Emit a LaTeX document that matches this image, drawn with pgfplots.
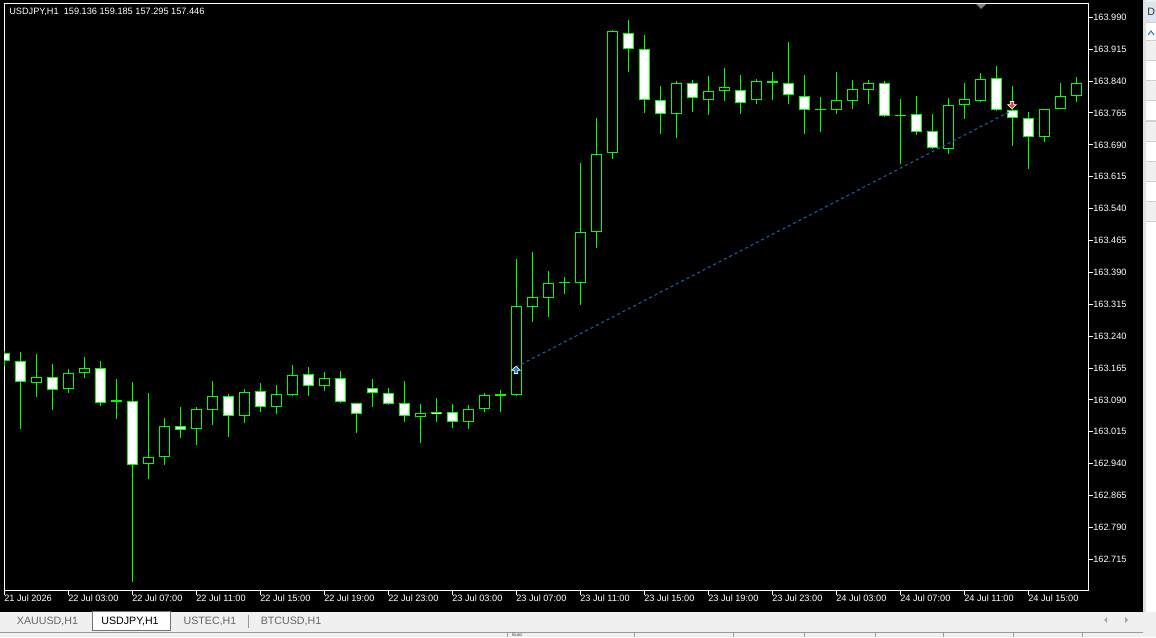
\documentclass[border=0pt]{standalone}
\usepackage{fontspec}
\setmainfont{Liberation Sans}
\usepackage{pgfplots}
\usepackage{pgfplotstable}
\pgfplotsset{compat=1.18}

\definecolor{mtgreen}{RGB}{0,255,0}
\definecolor{tradeblue}{RGB}{30,100,190}
\definecolor{buyblue}{RGB}{30,120,215}
\definecolor{sellred}{RGB}{232,70,40}
\definecolor{panel}{RGB}{240,240,240}
\definecolor{tabtext}{RGB}{100,100,100}
\definecolor{hdr}{RGB}{220,228,238}

% USDJPY H1 candles: index, open, high, low, close
\pgfplotstableread{
i  o        h        l        c
0  163.2000 163.2050 163.1700 163.1810
1  163.1808 163.2026 163.0222 163.1314
2  163.1290 163.1979 163.0975 163.1431
3  163.1431 163.1744 163.0669 163.1126
4  163.1163 163.1627 163.1069 163.1525
5  163.1525 163.1909 163.1422 163.1643
6  163.1643 163.1815 163.0763 163.0820
7  163.0890 163.1391 163.0450 163.0843
8  163.0867 163.1321 162.6623 162.9361
9  162.9385 163.1062 162.9046 162.9549
10 162.9549 163.0474 162.9375 163.0279
11 163.0279 163.0733 163.0010 163.0185
12 163.0208 163.0733 162.9846 163.0679
13 163.0655 163.1344 163.0316 163.0984
14 163.0984 163.1038 163.0034 163.0514
15 163.0514 163.1149 163.0349 163.1078
16 163.1109 163.1297 163.0622 163.0740
17 163.0740 163.1250 163.0575 163.1031
18 163.1022 163.1721 163.0998 163.1478
19 163.1502 163.1674 163.0998 163.1234
20 163.1234 163.1556 163.1109 163.1408
21 163.1408 163.1580 163.0827 163.0857
22 163.0820 163.0830 163.0128 163.0561
23 163.1173 163.1391 163.0740 163.1055
24 163.1055 163.1180 163.0785 163.0796
25 163.0820 163.1344 163.0387 163.0514
26 163.0490 163.0803 162.9893 163.0584
27 163.0615 163.0944 163.0387 163.0561
28 163.0608 163.0803 163.0246 163.0373
29 163.0373 163.0780 163.0222 163.0679
30 163.0679 163.1062 163.0608 163.1008
31 163.1003 163.1133 163.0622 163.1031
32 163.1022 163.4214 163.1000 163.3109
33 163.3092 163.4379 163.2739 163.3320
34 163.3304 163.3932 163.2857 163.3650
35 163.3645 163.3791 163.3398 163.3672
36 163.3657 163.6473 163.3139 163.4849
37 163.4856 163.7531 163.4480 163.6684
38 163.6701 163.9601 163.6567 163.9571
39 163.9524 163.9836 163.8620 163.9147
40 163.9147 163.9484 163.7656 163.7947
41 163.7947 163.8284 163.7162 163.7618
42 163.7618 163.8402 163.7068 163.8347
43 163.8347 163.8425 163.7679 163.7995
44 163.7947 163.8519 163.7609 163.8159
45 163.8159 163.8707 163.7938 163.8253
46 163.8183 163.8543 163.7632 163.7877
47 163.7947 163.8449 163.7868 163.8394
48 163.8394 163.8613 163.7962 163.8347
49 163.8347 163.9319 163.7868 163.8065
50 163.8042 163.8543 163.7162 163.7712
51 163.7712 163.8025 163.7209 163.7740
52 163.7712 163.8613 163.7632 163.7947
53 163.7938 163.8425 163.7743 163.8206
54 163.8197 163.8425 163.7868 163.8347
55 163.8347 163.8402 163.7562 163.7585
56 163.7600 163.7978 163.6456 163.7572
57 163.7618 163.8049 163.7138 163.7209
58 163.7218 163.7625 163.6809 163.6832
59 163.6809 163.8002 163.6691 163.7830
60 163.7844 163.8354 163.7515 163.7971
61 163.7938 163.8590 163.7915 163.8442
62 163.8465 163.8754 163.7700 163.7712
63 163.7712 163.8284 163.6879 163.7524
64 163.7524 163.7672 163.6338 163.7077
65 163.7077 163.7750 163.6974 163.7736
66 163.7750 163.8354 163.7740 163.8042
67 163.8056 163.8496 163.7915 163.8347
}\candles

% one screen pixel in price units
\def\px{0.0023524}

\pgfdeclareplotmark{buyarrow}{%
  \pgfpathmoveto{\pgfqpoint{0pt}{2.8pt}}%
  \pgfpathlineto{\pgfqpoint{3.3pt}{-0.3pt}}%
  \pgfpathlineto{\pgfqpoint{1.3pt}{-0.3pt}}%
  \pgfpathlineto{\pgfqpoint{1.3pt}{-2.6pt}}%
  \pgfpathlineto{\pgfqpoint{-1.3pt}{-2.6pt}}%
  \pgfpathlineto{\pgfqpoint{-1.3pt}{-0.3pt}}%
  \pgfpathlineto{\pgfqpoint{-3.3pt}{-0.3pt}}%
  \pgfpathclose\pgfusepathqfillstroke}
\pgfdeclareplotmark{sellarrow}{%
  \pgfpathmoveto{\pgfqpoint{0pt}{-2.8pt}}%
  \pgfpathlineto{\pgfqpoint{3.3pt}{0.3pt}}%
  \pgfpathlineto{\pgfqpoint{1.3pt}{0.3pt}}%
  \pgfpathlineto{\pgfqpoint{1.3pt}{2.6pt}}%
  \pgfpathlineto{\pgfqpoint{-1.3pt}{2.6pt}}%
  \pgfpathlineto{\pgfqpoint{-1.3pt}{0.3pt}}%
  \pgfpathlineto{\pgfqpoint{-3.3pt}{0.3pt}}%
  \pgfpathclose\pgfusepathqfillstroke}

\newcommand{\lbl}{\fontsize{6.9}{8}\selectfont}
\newcommand{\tabf}{\fontsize{8}{9}\selectfont}

\begin{document}
\begin{tikzpicture}
\useasboundingbox (0,0) rectangle (867pt,477.75pt);

% window chrome, in screen pixels from the top left
\begin{scope}[x=0.75pt,y=-0.75pt,yshift=477.75pt]
  \fill[black] (0,0) rectangle (1143,612);
  \fill[panel] (1143,0) rectangle (1156,637);
  \fill[black!12] (1143,0) rectangle (1146,612);
  \fill[white] (1146,23) rectangle (1156,612);
  \fill[hdr] (1146,2) rectangle (1156,23);
  \foreach \yy in {41,81,121,161,201} {\fill[panel] (1146,\yy) rectangle (1156,\yy+20);}
  \foreach \yy in {23,41,61,81,101,121,141,161,181,201,221} {\draw[black!18,line width=0.75pt] (1146,\yy) -- (1156,\yy);}
  \node[anchor=west,inner sep=0pt,text=black!80] at (1147,12) {\tabf D};
  \draw[buyblue,line width=0.75pt] (1148,35) -- (1151,31) -- (1154,35);
\end{scope}

\begin{axis}[
  at={(3pt,35.25pt)}, anchor=south west,
  width=813pt, height=439.5pt, scale only axis,
  xmin=0, xmax=67.75, ymin=162.6428, ymax=164.0213,
  axis line style={draw=white, line width=0.75pt},
  tick style={draw=white, line width=0.75pt},
  tick align=outside, major tick length=3.75pt,
  xtick pos=left, ytick pos=right, yticklabel pos=right,
  xtick={0,4,...,64},
  xticklabels={21 Jul 2026,22 Jul 03:00,22 Jul 07:00,22 Jul 11:00,22 Jul 15:00,22 Jul 19:00,22 Jul 23:00,23 Jul 03:00,23 Jul 07:00,23 Jul 11:00,23 Jul 15:00,23 Jul 19:00,23 Jul 23:00,24 Jul 03:00,24 Jul 07:00,24 Jul 11:00,24 Jul 15:00},
  ytick={162.715,162.79,162.865,162.94,163.015,163.09,163.165,163.24,163.315,163.39,163.465,163.54,163.615,163.69,163.765,163.84,163.915,163.99},
  yticklabels={162.715,162.790,162.865,162.940,163.015,163.090,163.165,163.240,163.315,163.390,163.465,163.540,163.615,163.690,163.765,163.840,163.915,163.990},
  tick label style={font=\lbl, text=white, inner sep=0pt},
  xticklabel style={anchor=north west},
  yticklabel style={anchor=west},
]
% wicks
\addplot[draw=none, mark=none, error bars/.cd, y dir=plus, y explicit, error mark=none,
  error bar style={draw=mtgreen, line width=0.75pt}]
  table[x=i, y=l, y error plus expr={\thisrow{h}-\thisrow{l}}] {\candles};
% body outlines
\addplot[draw=none, mark=none, error bars/.cd, y dir=plus, y explicit, error mark=none,
  error bar style={draw=mtgreen, line width=8.25pt}]
  table[x=i, y expr={min(\thisrow{o},\thisrow{c})}, y error plus expr={abs(\thisrow{c}-\thisrow{o})}] {\candles};
% bull bodies (black)
\addplot[draw=none, mark=none, error bars/.cd, y dir=plus, y explicit, error mark=none,
  error bar style={draw=black, line width=6.75pt}]
  table[x=i, y expr={min(\thisrow{o},\thisrow{c})+\px}, y error plus expr={max(\thisrow{c}-\thisrow{o}-2*\px,0)}] {\candles};
% bear bodies (white)
\addplot[draw=none, mark=none, error bars/.cd, y dir=plus, y explicit, error mark=none,
  error bar style={draw=white, line width=6.75pt}]
  table[x=i, y expr={min(\thisrow{o},\thisrow{c})+\px}, y error plus expr={max(\thisrow{o}-\thisrow{c}-2*\px,0)}] {\candles};
% trade line and markers
\addplot[tradeblue, line width=0.75pt, dash pattern=on 2.25pt off 2.25pt] coordinates {(32,163.1674) (63,163.7708)};
\addplot[only marks, mark=buyarrow, mark options={fill=buyblue, draw=white, line width=0.5pt}] coordinates {(32,163.1603)};
\addplot[only marks, mark=sellarrow, mark options={fill=sellred, draw=white, line width=0.5pt}] coordinates {(63,163.7837)};
\end{axis}

\begin{scope}[x=0.75pt,y=-0.75pt,yshift=477.75pt]
  \node[anchor=west,inner sep=0pt,text=white] at (9,12) {\lbl USDJPY,H1\ \ 159.136 159.185 157.295 157.446};
  \fill[black!50] (976,4) -- (986,4) -- (981,9) -- cycle;
  % tab bar
  \fill[panel] (0,612) rectangle (1143,637);
  \filldraw[fill=white, draw=black!55, line width=0.75pt] (92,611.5) rectangle (170,630.5);
  \node[text=tabtext,inner sep=0pt] at (47.5,621) {\tabf XAUUSD,H1};
  \node[text=black,inner sep=0pt] at (130,621) {\tabf USDJPY,H1};
  \node[text=tabtext,inner sep=0pt] at (210,621) {\tabf USTEC,H1};
  \node[text=tabtext,inner sep=0pt] at (291,621) {\tabf BTCUSD,H1};
  \draw[black!40,line width=0.75pt] (248.5,615) -- (248.5,628);
  \fill[black!35] (1107,617) -- (1107,623) -- (1104,620) -- cycle;
  \fill[black!35] (1125,617) -- (1125,623) -- (1128,620) -- cycle;
  % status bar
  \draw[black!40,line width=0.75pt] (0,632) -- (1143,632);
  \foreach \xx in {507,634,733,804,875,943,1013,1082} {\draw[black!40,line width=0.75pt] (\xx,632) -- (\xx,637);}
  \node[anchor=base west,inner sep=0pt,text=black!80] at (512,636.6) {\fontsize{3.4}{4}\selectfont Euro};
\end{scope}
\end{tikzpicture}
\end{document}
